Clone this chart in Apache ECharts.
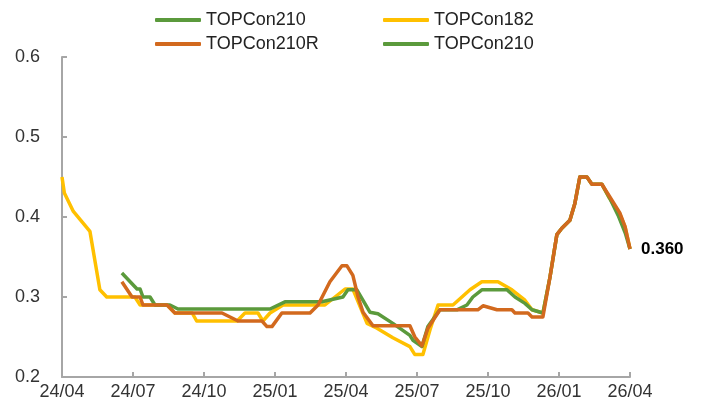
<!DOCTYPE html>
<html>
<head>
<meta charset="utf-8">
<script src="https://cdn.jsdelivr.net/npm/echarts@6/dist/echarts.min.js"></script>
<style>
  html, body { margin: 0; padding: 0; background: #fff; }
  #main { width: 705px; height: 412px; }
</style>
</head>
<body>
<div id="main"></div>
<script>
// x = months since 2024/04
var tickLabels = ['24/04', '24/07', '24/10', '25/01', '25/04', '25/07', '25/10', '26/01', '26/04'];

var t182Months = [0, 0.1, 0.48, 1.18, 1.6, 1.89, 3.08, 3.3, 4.44, 4.77, 5.5, 5.69, 7.4, 7.73, 8.28,
  8.49, 8.79, 9.34, 11.11, 11.96, 12.29, 12.89, 13.31, 13.98, 14.7, 14.91, 15.25, 15.55, 15.89, 16.52,
  17.24, 17.74, 18.42, 19.01, 19.56, 19.86, 20.32, 20.62, 20.91, 21.12, 21.46, 21.67, 21.88, 22.18, 22.39,
  22.81, 23.1, 23.55, 23.79, 24];
var t182Values = [0.45, 0.43, 0.407, 0.382, 0.309, 0.30, 0.30, 0.29, 0.29, 0.28, 0.28, 0.27, 0.27, 0.28, 0.28,
  0.27, 0.28, 0.29, 0.29, 0.31, 0.31, 0.267, 0.261, 0.249, 0.238, 0.228, 0.228, 0.259, 0.29, 0.29,
  0.309, 0.319, 0.319, 0.309, 0.296, 0.284, 0.28, 0.325, 0.378, 0.386, 0.396, 0.417, 0.45, 0.45, 0.441,
  0.441, 0.425, 0.405, 0.388, 0.36];

var t210Months = [2.53, 3.17, 3.30, 3.42, 3.72, 3.93, 4.56, 4.90, 8.79, 9.42, 10.98, 11.87, 12.08, 12.46, 13.01,
  13.35, 13.98, 14.70, 14.83, 15.21, 15.46, 15.97, 16.69, 17.11, 17.36, 17.74, 18.80, 19.14, 19.56, 19.86,
  20.32, 20.62, 20.91, 21.12, 21.46, 21.67, 21.88, 22.18, 22.39, 22.81, 23.15, 23.5, 23.8, 24];
var t210Values = [0.33, 0.31, 0.31, 0.30, 0.30, 0.29, 0.29, 0.285, 0.285, 0.294, 0.294, 0.30, 0.309, 0.309, 0.281,
  0.279, 0.267, 0.252, 0.246, 0.238, 0.263, 0.284, 0.284, 0.29, 0.30, 0.309, 0.309, 0.30, 0.292, 0.284,
  0.28, 0.325, 0.378, 0.386, 0.396, 0.417, 0.45, 0.45, 0.441, 0.441, 0.423, 0.402, 0.38, 0.36];

var t210RMonths = [2.53, 2.96, 3.30, 3.42, 4.44, 4.77, 6.76, 7.10, 7.44, 8.45, 8.66, 8.87, 9.29, 10.48, 10.82,
  11.32, 11.83, 12.04, 12.29, 12.51, 12.72, 13.14, 14.70, 14.91, 15.21, 15.46, 15.97, 17.57, 17.79, 18.38,
  19.01, 19.14, 19.69, 19.86, 20.32, 20.62, 20.91, 21.12, 21.46, 21.67, 21.88, 22.18, 22.39, 22.81, 23.15,
  23.57, 23.79, 24];
var t210RValues = [0.319, 0.30, 0.30, 0.29, 0.29, 0.28, 0.28, 0.275, 0.27, 0.27, 0.263, 0.263, 0.28, 0.28, 0.29,
  0.319, 0.339, 0.339, 0.327, 0.30, 0.281, 0.264, 0.264, 0.25, 0.239, 0.261, 0.284, 0.284, 0.289, 0.284,
  0.284, 0.28, 0.28, 0.275, 0.275, 0.325, 0.378, 0.386, 0.396, 0.417, 0.45, 0.45, 0.441, 0.441, 0.425,
  0.405, 0.388, 0.36];

function pairs(xs, ys) {
  return xs.map(function (x, i) { return [x, ys[i]]; });
}

var GREEN = '#5b9a3c', YELLOW = '#ffc000', ORANGE = '#d2691e';
var FONT = 'Liberation Sans';

function legendAt(name, left, top) {
  return {
    data: [name], left: left, top: top,
    icon: 'roundRect', itemWidth: 46, itemHeight: 4, itemGap: 0,
    textStyle: { fontFamily: FONT, fontSize: 18, color: '#222' },
    selectedMode: false
  };
}

var chart = echarts.init(document.getElementById('main'));

var option = {
  animation: false,
  backgroundColor: '#fff',
  legend: [
    legendAt('TOPCon210', 150, 6),
    legendAt('TOPCon182', 378, 6),
    legendAt('TOPCon210R', 150, 30),
    legendAt('TOPCon210 ', 378, 30)
  ],
  grid: { left: 62, right: 75, top: 57, bottom: 35 },
  xAxis: {
    type: 'value',
    min: 0, max: 24, interval: 3,
    axisLine: { lineStyle: { color: '#a6a6a6', width: 2 } },
    axisTick: { show: true, inside: true, length: 5, lineStyle: { color: '#a6a6a6', width: 2 } },
    axisLabel: {
      fontFamily: FONT, fontSize: 18, color: '#333', margin: 6,
      formatter: function (v) { return tickLabels[Math.round(v / 3)]; }
    },
    splitLine: { show: false }
  },
  yAxis: {
    type: 'value',
    min: 0.2, max: 0.6, interval: 0.1,
    axisLine: { show: true, lineStyle: { color: '#a6a6a6', width: 2 } },
    axisTick: { show: true, inside: true, length: 5, lineStyle: { color: '#a6a6a6', width: 2 } },
    axisLabel: {
      fontFamily: FONT, fontSize: 18, color: '#333', margin: 22,
      formatter: function (v) { return v.toFixed(1); }
    },
    splitLine: { show: false }
  },
  series: [
    {
      name: 'TOPCon182', type: 'line', data: pairs(t182Months, t182Values),
      showSymbol: false, color: YELLOW,
      lineStyle: { width: 3.5, color: YELLOW, join: 'round' }
    },
    {
      name: 'TOPCon210', type: 'line', data: pairs(t210Months, t210Values),
      showSymbol: false, color: GREEN,
      lineStyle: { width: 3.5, color: GREEN, join: 'round' }
    },
    {
      name: 'TOPCon210 ', type: 'line', data: [],
      showSymbol: false, color: GREEN,
      lineStyle: { width: 3.5, color: GREEN }
    },
    {
      name: 'TOPCon210R', type: 'line', data: pairs(t210RMonths, t210RValues),
      showSymbol: false, color: ORANGE,
      lineStyle: { width: 3.5, color: ORANGE, join: 'round' },
      endLabel: {
        show: true, distance: 11,
        fontFamily: FONT, fontSize: 17, fontWeight: 'bold', color: '#000',
        formatter: function (p) { return p.value[1].toFixed(3); }
      }
    }
  ]
};

chart.setOption(option);
</script>
</body>
</html>
